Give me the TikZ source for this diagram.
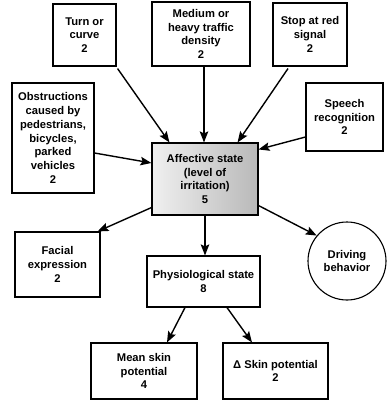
\documentclass[tikz,border=0pt]{standalone}
\usepackage{fontspec}
\setmainfont{Liberation Sans}
\usetikzlibrary{arrows.meta,calc}
\begin{document}
\begin{tikzpicture}[x=1pt,y=-1pt,
  box/.style={draw,line width=1.1pt,align=center,inner sep=0pt,
    font=\fontsize{11.2}{13.8}\selectfont\bfseries},
  arr/.style={line width=1.4pt,-{Stealth[length=11pt,width=8.5pt,inset=2pt]}}]
\useasboundingbox (0,0) rectangle (390,402);
\node[box,minimum width=63pt,minimum height=62pt] (turn) at (84.5,35) {Turn or\\curve\\2};
\node[box,minimum width=98pt,minimum height=64pt] (medium) at (201,34) {Medium or\\heavy traffic\\density\\2};
\node[box,minimum width=74pt,minimum height=63pt] (stop) at (310,34.5) {Stop at red\\signal\\2};
\node[box,minimum width=82pt,minimum height=110pt] (obst) at (53,138) {Obstructions\\caused by\\pedestrians,\\bicycles,\\parked\\vehicles\\2};
\node[box,minimum width=77pt,minimum height=68pt] (speech) at (344.5,117) {Speech\\recognition\\2};
\node[box,minimum width=106pt,minimum height=72pt,
  left color=gray!12,right color=gray!55] (aff) at (205,179) {Affective state\\(level of\\irritation)\\5};
\node[box,minimum width=85pt,minimum height=65pt] (facial) at (57.5,264.5) {Facial\\expression\\2};
\node[box,minimum width=113pt,minimum height=51pt] (phys) at (203.5,281.5) {Physiological state\\8};
\node[box,circle,minimum size=78pt] (drive) at (347,261) {Driving\\behavior};
\node[box,minimum width=106pt,minimum height=56pt] (mean) at (144,371) {Mean skin\\potential\\4};
\node[box,minimum width=105pt,minimum height=56pt] (delta) at (275.5,371) {Δ Skin potential\\2};
\draw[arr] ($(turn.south east)+(1,2)$) -- ($(aff.north west)+(18,0)$);
\draw[arr] ($(medium.south)+(3,0)$) -- ($(aff.north)+(-1,0)$);
\draw[arr] ($(stop.south)+(-22,2)$) -- ($(aff.north east)+(-21,0)$);
\draw[arr] ($(obst.east)+(0,15)$) -- ($(aff.west)+(0,-16)$);
\draw[arr] ($(speech.west)+(0,20)$) -- ($(aff.north east)+(0,7)$);
\draw[arr] ($(aff.south west)+(0,-8)$) -- ($(facial.north east)+(-3,0)$);
\draw[arr] (aff.south) -- (aff.south |- phys.north);
\draw[arr] ($(aff.south east)+(0,-10)$) -- (drive.140);
\draw[arr] ($(phys.south)+(-18.5,0)$) -- ($(mean.north)+(23,0)$);
\draw[arr] ($(phys.south)+(23.5,0)$) -- ($(delta.north)+(-23.5,0)$);
\end{tikzpicture}
\end{document}
